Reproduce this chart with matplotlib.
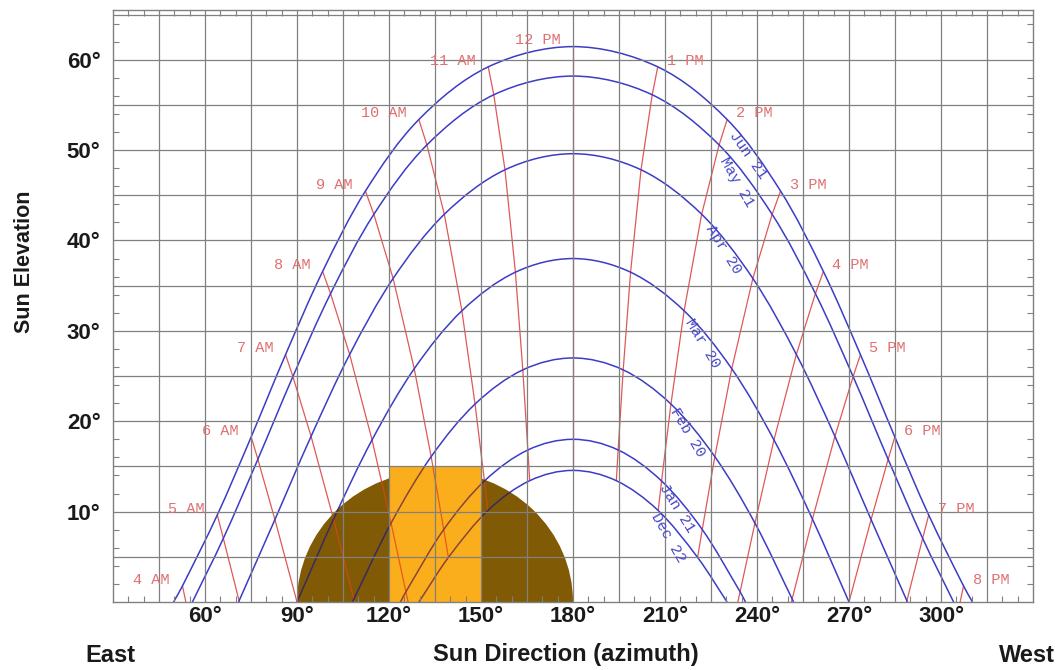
import numpy as np
import matplotlib
matplotlib.use("Agg")
import matplotlib.pyplot as plt
from matplotlib.path import Path
from matplotlib.patches import PathPatch, Ellipse, Rectangle

# ---------------- data (solar time in hours, azimuth deg, elevation deg) ----------------
date_names = ["Jun 21", "May 21", "Apr 20", "Mar 20", "Feb 20", "Jan 21", "Dec 22"]

jun_hour = [3.753, 4, 5, 6, 7, 8, 9, 10, 11, 12, 13, 14, 15, 16, 17, 18, 19, 20, 20.247]
jun_az = [49.75, 52.65, 64.01, 75.06, 86.27, 98.35, 112.32, 129.73, 152.36, 180.0,
          207.64, 230.27, 247.68, 261.65, 273.73, 284.94, 295.99, 307.35, 310.25]
jun_alt = [0.0, 1.78, 9.63, 18.27, 27.37, 36.57, 45.47, 53.38, 59.21, 61.45,
           59.21, 53.38, 45.47, 36.57, 27.37, 18.27, 9.63, 1.78, 0.0]

may_hour = [4.127, 5, 6, 7, 8, 9, 10, 11, 12, 13, 14, 15, 16, 17, 18, 19, 19.873]
may_az = [55.89, 65.98, 77.24, 88.66, 100.95, 115.06, 132.36, 154.17, 180.0,
          205.83, 227.64, 244.94, 259.05, 271.34, 282.76, 294.02, 304.11]
may_alt = [0.0, 7.04, 15.79, 24.94, 34.12, 42.89, 50.57, 56.12, 58.19,
           56.12, 50.57, 42.89, 34.12, 24.94, 15.79, 7.04, 0.0]

apr_hour = [4.985, 6, 7, 8, 9, 10, 11, 12, 13, 14, 15, 16, 17, 18, 19.015]
apr_az = [70.94, 82.80, 94.59, 107.17, 121.35, 138.04, 157.82, 180.0,
          202.18, 221.96, 238.65, 252.83, 265.41, 277.20, 289.06]
apr_alt = [0.0, 9.12, 18.33, 27.39, 35.80, 42.90, 47.82, 49.60,
           47.82, 42.90, 35.80, 27.39, 18.33, 9.12, 0.0]

mar_hour = [6, 7, 8, 9, 10, 11, 12, 13, 14, 15, 16, 17, 18]
mar_az = [90.0, 101.92, 114.47, 128.23, 143.77, 161.22, 180.0,
          198.78, 216.23, 231.77, 245.53, 258.08, 270.0]
mar_alt = [0.0, 9.17, 17.93, 25.81, 32.22, 36.49, 38.00,
           36.49, 32.22, 25.81, 17.93, 9.17, 0.0]

feb_hour = [6.961, 8, 9, 10, 11, 12, 13, 14, 15, 16, 17.039]
feb_az = [108.06, 120.67, 133.75, 148.06, 163.63, 180.0, 196.37, 211.94, 226.25, 239.33, 251.94]
feb_alt = [0.0, 8.73, 16.08, 21.90, 25.68, 27.00, 25.68, 21.90, 16.08, 8.73, 0.0]

jan_hour = [7.851, 8, 9, 10, 11, 12, 13, 14, 15, 16, 16.149]
jan_az = [123.75, 125.51, 137.85, 151.12, 165.28, 180.0, 194.72, 208.88, 222.15, 234.49, 236.25]
jan_alt = [0.0, 1.13, 8.02, 13.39, 16.82, 18.00, 16.82, 13.39, 8.02, 1.13, 0.0]

dec_hour = [8.247, 9, 10, 11, 12, 13, 14, 15, 15.753]
dec_az = [129.75, 139.37, 152.22, 165.87, 180.0, 194.13, 207.78, 220.63, 230.25]
dec_alt = [0.0, 4.93, 10.12, 13.42, 14.56, 13.42, 10.12, 4.93, 0.0]

hour_values = [4, 5, 6, 7, 8, 9, 10, 11, 12, 13, 14, 15, 16, 17, 18, 19, 20]
hour_labels = ["4 AM", "5 AM", "6 AM", "7 AM", "8 AM", "9 AM", "10 AM", "11 AM", "12 PM",
               "1 PM", "2 PM", "3 PM", "4 PM", "5 PM", "6 PM", "7 PM", "8 PM"]
# azimuth where an hour line meets the horizon
horizon_hour = [4, 5, 7, 8, 16, 17, 19, 20]
horizon_az = [53.76, 71.22, 108.78, 126.24, 233.76, 251.22, 288.78, 306.24]

shade_ellipse_center = 135.0
shade_ellipse_width = 90.0
shade_ellipse_height = 14.5
shade_rect_az = (120.0, 150.0)
shade_rect_alt = 15.0

x_tick_labels = [60, 90, 120, 150, 180, 210, 240, 270, 300]
y_tick_labels = [10, 20, 30, 40, 50, 60]

days = [(jun_hour, jun_az, jun_alt), (may_hour, may_az, may_alt), (apr_hour, apr_az, apr_alt),
        (mar_hour, mar_az, mar_alt), (feb_hour, feb_az, feb_alt), (jan_hour, jan_az, jan_alt),
        (dec_hour, dec_az, dec_alt)]

# ---------------- styling ----------------
BLUE = "#3c3cc6"
RED = "#e05858"
RED_TXT = "#e07070"
BLUE_TXT = "#4848c8"
GRID = "#808080"
BROWN = "#805a04"
ORANGE = "#fbae1c"
LABEL_FONT = ["Liberation Mono", "DejaVu Sans Mono"]
SANS = ["Liberation Sans", "DejaVu Sans"]

fig = plt.figure(figsize=(10.63, 6.70), dpi=100)
ax = fig.add_axes([113 / 1063, 1 - 602 / 670, 920 / 1063, 592 / 670])
ax.set_xlim(30, 330)
ax.set_ylim(0, 65.5)


def smooth_path(t, x, y):
    t = np.asarray(t, float)
    x = np.asarray(x, float)
    y = np.asarray(y, float)
    n = len(t)
    dx = np.empty(n)
    dy = np.empty(n)
    for i in range(n):
        j0 = max(i - 1, 0)
        j1 = min(i + 1, n - 1)
        dx[i] = (x[j1] - x[j0]) / (t[j1] - t[j0])
        dy[i] = (y[j1] - y[j0]) / (t[j1] - t[j0])
    verts = [(x[0], y[0])]
    codes = [Path.MOVETO]
    for i in range(n - 1):
        h = t[i + 1] - t[i]
        verts += [(x[i] + dx[i] * h / 3, y[i] + dy[i] * h / 3),
                  (x[i + 1] - dx[i + 1] * h / 3, y[i + 1] - dy[i + 1] * h / 3),
                  (x[i + 1], y[i + 1])]
        codes += [Path.CURVE4] * 3
    return Path(verts, codes)


def hour_line(hv):
    xs, ys = [], []
    for hrs, az, alt in days:
        if hv in hrs:
            k = hrs.index(hv)
            xs.append(az[k])
            ys.append(alt[k])
    if hv in horizon_hour:
        xs.append(horizon_az[horizon_hour.index(hv)])
        ys.append(0.0)
    return xs, ys


def draw_lines(blue, red, z, clip=None):
    for hv in hour_values:
        xs, ys = hour_line(hv)
        ln, = ax.plot(xs, ys, color=red, lw=0.9, zorder=z, solid_capstyle="butt")
        if clip is not None:
            ln.set_clip_path(clip)
    for hrs, az, alt in days:
        p = PathPatch(smooth_path(hrs, az, alt), fill=False, ec=blue, lw=1.1, zorder=z + 0.05)
        ax.add_patch(p)
        if clip is not None:
            p.set_clip_path(clip)


draw_lines(BLUE, RED, 1.0)

ell = Ellipse((shade_ellipse_center, 0), shade_ellipse_width, 2 * shade_ellipse_height,
              facecolor=BROWN, edgecolor="none", zorder=1.2)
ax.add_patch(ell)
draw_lines("#3a2a62", "#c84c10", 1.3, clip=ell)

rect = Rectangle((shade_rect_az[0], 0), shade_rect_az[1] - shade_rect_az[0], shade_rect_alt,
                 facecolor=ORANGE, edgecolor="none", zorder=1.6)
ax.add_patch(rect)
draw_lines("#8a4438", "#e85a18", 1.7, clip=rect)

# grid & ticks (grid drawn above the shaded shapes, as in the reference)
ax.set_axisbelow(False)
ax.set_xticks(np.arange(45, 330, 15))
ax.set_xticklabels([f"{v}\u00b0" if v in x_tick_labels else "" for v in np.arange(45, 330, 15)])
ax.set_yticks(np.arange(5, 66, 5))
ax.set_yticklabels([f"{v}\u00b0" if v in y_tick_labels else "" for v in np.arange(5, 66, 5)])
ax.set_xticks(np.arange(35, 330, 5), minor=True)
ax.set_yticks(np.arange(2, 66, 2), minor=True)
ax.grid(True, which="major", color=GRID, lw=0.9)
ax.tick_params(which="major", length=0, labelsize=16, pad=3, colors="#1a1a1a")
ax.tick_params(axis="y", which="major", pad=9)
ax.tick_params(which="minor", direction="in", length=4, width=0.8, color=GRID,
               top=True, right=True, bottom=True, left=True)
for lab in ax.get_xticklabels() + ax.get_yticklabels():
    lab.set_fontweight("bold")
    lab.set_fontfamily(SANS)
for s in ax.spines.values():
    s.set_color(GRID)
    s.set_linewidth(1.0)

# hour labels
for hv, lab in zip(hour_values, hour_labels):
    k = jun_hour.index(hv)
    if hv <= 12:
        off, ha = (-9, 4.5), "right"
    else:
        off, ha = (6.5, 4.5), "left"
    ax.annotate(lab, (jun_az[k], jun_alt[k]), xytext=off, textcoords="offset points",
                ha=ha, va="center", color=RED_TXT, fontsize=11, family=LABEL_FONT, zorder=6)

# date labels along curves (positions/rotations are layout)
date_label_pos = [(237.0, 49.4), (233.5, 46.5), (228.9, 39.0), (222.4, 28.6),
                  (217.2, 18.8), (213.9, 10.4), (211.0, 7.1)]
date_label_rot = [-55, -60, -58, -59, -59, -58, -60]
for name, (px, py), rot in zip(date_names, date_label_pos, date_label_rot):
    ax.text(px, py, name, rotation=rot, rotation_mode="anchor", ha="center", va="center",
            color=BLUE_TXT, fontsize=11, family=LABEL_FONT, zorder=6)

# axis titles
fig.text(25 / 1063, 1 - 262 / 670, "Sun Elevation", rotation=90, ha="center", va="center",
         fontsize=15.5, fontweight="bold", family=SANS, color="#1a1a1a")
fig.text(110 / 1063, 1 - 655 / 670, "East", ha="center", va="center",
         fontsize=17, fontweight="bold", family=SANS, color="#1a1a1a")
fig.text(566 / 1063, 1 - 655 / 670, "Sun Direction (azimuth)", ha="center", va="center",
         fontsize=17, fontweight="bold", family=SANS, color="#1a1a1a")
fig.text(1027 / 1063, 1 - 655 / 670, "West", ha="center", va="center",
         fontsize=17, fontweight="bold", family=SANS, color="#1a1a1a")

fig.savefig("out.png", dpi=100)
